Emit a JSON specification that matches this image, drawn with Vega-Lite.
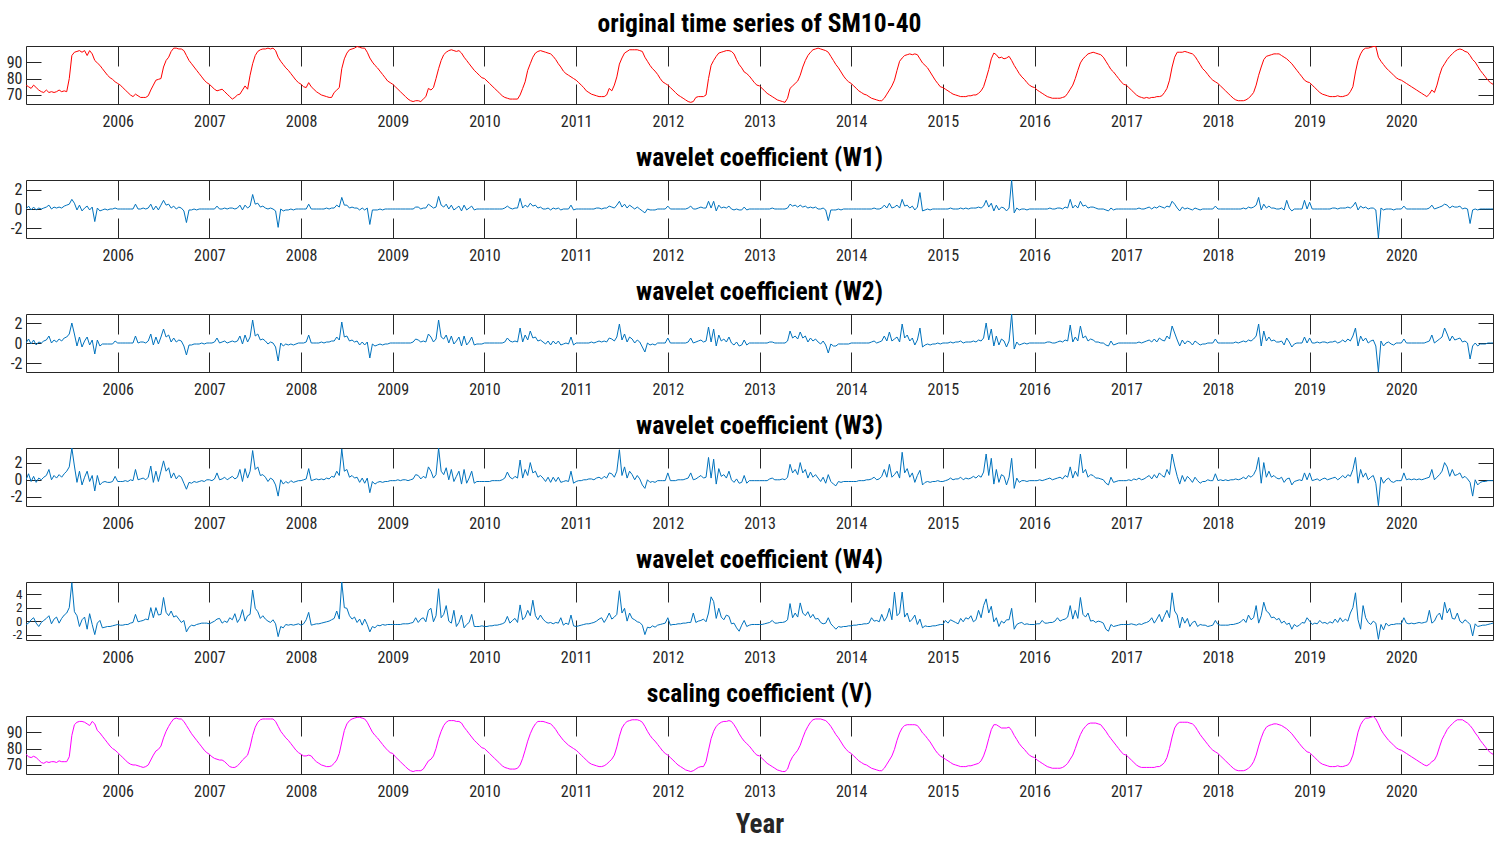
{
"$schema":"https://vega.github.io/schema/vega-lite/v6.json",
"background":"white",
"padding":{"left":5,"top":11,"right":5,"bottom":5},
"config":{
 "font":"Roboto Condensed, DejaVu Sans Condensed, Liberation Sans, sans-serif",
 "view":{"stroke":"#262626","strokeWidth":1},
 "axis":{"grid":false,"domain":false,"labelOverlap":false,"labelFont":"Roboto Condensed, DejaVu Sans Condensed, Liberation Sans, sans-serif","labelFontSize":16,"labelColor":"#262626","tickColor":"#262626","tickWidth":1,"titleFont":"Roboto Condensed, DejaVu Sans Condensed, Liberation Sans, sans-serif","titleColor":"#262626","labelExpr":"'' + datum.value"},
 "title":{"font":"Roboto Condensed, DejaVu Sans Condensed, Liberation Sans, sans-serif","fontSize":25.5,"fontWeight":"bold","color":"#000000","anchor":"middle","baseline":"alphabetic","offset":8}
},
"data":{"values":[
{"t":2005,"a":76,"b":0,"c":0,"d":0,"e":-0.5,"f":76.5},
{"t":2005.028,"a":75,"b":0.3,"c":0.4,"d":0.7,"e":-0.3,"f":75},
{"t":2005.056,"a":74,"b":-0.1,"c":-0.1,"d":-0.2,"e":0.2,"f":74.5},
{"t":2005.083,"a":76,"b":0.2,"c":0.3,"d":0.4,"e":0.5,"f":75.3},
{"t":2005.111,"a":74.5,"b":-0.1,"c":-0.2,"d":-0.3,"e":-0.3,"f":74.5},
{"t":2005.139,"a":73,"b":0.1,"c":0.1,"d":0.2,"e":-0.8,"f":73},
{"t":2005.167,"a":72,"b":0,"c":0,"d":0,"e":-0.2,"f":71.5},
{"t":2005.194,"a":71.5,"b":0.1,"c":0.2,"d":0.3,"e":0.1,"f":71},
{"t":2005.222,"a":73,"b":0.2,"c":0.3,"d":0.5,"e":0.4,"f":72},
{"t":2005.25,"a":71.5,"b":0.4,"c":0.7,"d":1.2,"e":0.8,"f":71.5},
{"t":2005.278,"a":72,"b":0,"c":0,"d":0,"e":-0.4,"f":72},
{"t":2005.306,"a":71.5,"b":0.2,"c":0.3,"d":0.5,"e":0.3,"f":72},
{"t":2005.333,"a":72,"b":0.1,"c":0.1,"d":0.2,"e":0.6,"f":71.5},
{"t":2005.361,"a":73,"b":0.2,"c":0.4,"d":0.6,"e":-0.3,"f":72.5},
{"t":2005.389,"a":72,"b":0.1,"c":0.2,"d":0.3,"e":0.4,"f":72},
{"t":2005.417,"a":72.5,"b":0.3,"c":0.5,"d":0.7,"e":0.9,"f":72},
{"t":2005.444,"a":72,"b":0.4,"c":0.6,"d":1,"e":1.2,"f":72},
{"t":2005.472,"a":80,"b":0.5,"c":0.9,"d":1.5,"e":2,"f":75},
{"t":2005.5,"a":94,"b":1,"c":2,"d":3.7,"e":5.7,"f":88},
{"t":2005.528,"a":96,"b":0.6,"c":0.9,"d":1.6,"e":1.4,"f":94.5},
{"t":2005.556,"a":96.5,"b":-0.1,"c":-0.3,"d":-0.3,"e":0.8,"f":96},
{"t":2005.583,"a":97,"b":0.4,"c":0.6,"d":1,"e":-0.8,"f":96.5},
{"t":2005.611,"a":96,"b":-0.2,"c":-0.4,"d":-0.6,"e":0.2,"f":96.5},
{"t":2005.639,"a":97,"b":0.1,"c":0.2,"d":0.3,"e":0.6,"f":96},
{"t":2005.667,"a":94,"b":0.3,"c":0.6,"d":1,"e":-1.2,"f":95},
{"t":2005.694,"a":97,"b":-0.1,"c":-0.2,"d":-0.2,"e":1.1,"f":94},
{"t":2005.722,"a":95,"b":0.2,"c":0.3,"d":0.5,"e":-0.5,"f":96.5},
{"t":2005.75,"a":91,"b":-1.3,"c":-1.1,"d":-1.3,"e":-2,"f":95},
{"t":2005.778,"a":89.5,"b":0.1,"c":0.3,"d":0.5,"e":-0.3,"f":91},
{"t":2005.806,"a":88,"b":-0.2,"c":-0.3,"d":-0.6,"e":0.1,"f":89.5},
{"t":2005.833,"a":86,"b":-0.1,"c":-0.1,"d":-0.3,"e":-1,"f":87.5},
{"t":2005.861,"a":84,"b":0,"c":-0.1,"d":-0.2,"e":-0.9,"f":85.5},
{"t":2005.889,"a":82,"b":-0.1,"c":-0.1,"d":-0.3,"e":-0.8,"f":83.5},
{"t":2005.917,"a":80.5,"b":0,"c":-0.1,"d":-0.3,"e":-0.8,"f":81.5},
{"t":2005.944,"a":79.5,"b":0,"c":-0.1,"d":-0.2,"e":-0.7,"f":80},
{"t":2005.972,"a":78,"b":0.1,"c":0.2,"d":0.4,"e":-0.6,"f":79},
{"t":2006,"a":77,"b":0,"c":0,"d":-0.2,"e":-0.5,"f":77.5},
{"t":2006.028,"a":76,"b":0,"c":0,"d":-0.2,"e":-0.6,"f":76},
{"t":2006.056,"a":74.5,"b":0,"c":0,"d":-0.2,"e":-0.6,"f":74.5},
{"t":2006.083,"a":73,"b":0,"c":0,"d":-0.1,"e":-0.5,"f":73},
{"t":2006.111,"a":71.5,"b":0,"c":0,"d":-0.2,"e":-0.5,"f":71.5},
{"t":2006.139,"a":70,"b":0,"c":0,"d":0,"e":-0.3,"f":70.5},
{"t":2006.167,"a":69,"b":0,"c":0,"d":-0.1,"e":-0.2,"f":70},
{"t":2006.194,"a":70.5,"b":0.5,"c":0.7,"d":1.2,"e":1,"f":70},
{"t":2006.222,"a":69.5,"b":0,"c":0,"d":0,"e":-0.1,"f":69.5},
{"t":2006.25,"a":68.5,"b":0,"c":0.1,"d":0.1,"e":0,"f":69},
{"t":2006.278,"a":68.5,"b":0.1,"c":0.1,"d":0.2,"e":0.1,"f":68.5},
{"t":2006.306,"a":68.5,"b":0,"c":0,"d":0,"e":0.3,"f":69},
{"t":2006.333,"a":69.5,"b":0.1,"c":0.2,"d":0.3,"e":0.2,"f":70},
{"t":2006.361,"a":73,"b":0.5,"c":0.9,"d":1.6,"e":2,"f":73},
{"t":2006.389,"a":76,"b":-0.1,"c":-0.2,"d":-0.3,"e":0.5,"f":76},
{"t":2006.417,"a":79,"b":0.3,"c":0.6,"d":1,"e":2,"f":78.5},
{"t":2006.444,"a":79.5,"b":-0.1,"c":-0.1,"d":-0.2,"e":0.9,"f":79.5},
{"t":2006.472,"a":80,"b":0.4,"c":0.6,"d":1,"e":1,"f":81.5},
{"t":2006.5,"a":87,"b":0.9,"c":1.4,"d":2.2,"e":3.5,"f":86.5},
{"t":2006.528,"a":91,"b":0.4,"c":0.6,"d":1,"e":1.3,"f":90.5},
{"t":2006.556,"a":93,"b":0.5,"c":0.8,"d":1.4,"e":0.8,"f":93.5},
{"t":2006.583,"a":96.5,"b":0.1,"c":0.1,"d":0.2,"e":1.5,"f":96},
{"t":2006.611,"a":98.5,"b":0.3,"c":0.5,"d":0.8,"e":0.6,"f":98},
{"t":2006.639,"a":98.5,"b":0,"c":0.1,"d":0.1,"e":0.8,"f":98.5},
{"t":2006.667,"a":98,"b":0.2,"c":0.3,"d":0.5,"e":0.3,"f":98},
{"t":2006.694,"a":98,"b":0.1,"c":0.2,"d":0.3,"e":-0.2,"f":98},
{"t":2006.722,"a":97,"b":-0.2,"c":-0.3,"d":-0.4,"e":0.1,"f":96.5},
{"t":2006.75,"a":94,"b":-1.4,"c":-1.2,"d":-1.1,"e":-1.6,"f":94},
{"t":2006.778,"a":91,"b":-0.1,"c":-0.2,"d":-0.3,"e":-0.9,"f":91.5},
{"t":2006.806,"a":89,"b":-0.1,"c":-0.2,"d":-0.4,"e":-0.6,"f":89},
{"t":2006.833,"a":87,"b":0,"c":-0.1,"d":-0.2,"e":-0.7,"f":87},
{"t":2006.861,"a":85,"b":-0.1,"c":-0.1,"d":-0.3,"e":-0.5,"f":85},
{"t":2006.889,"a":83,"b":0,"c":-0.1,"d":-0.2,"e":-0.4,"f":83},
{"t":2006.917,"a":81,"b":0,"c":0,"d":-0.1,"e":-0.3,"f":81},
{"t":2006.944,"a":79,"b":0,"c":-0.1,"d":-0.2,"e":-0.3,"f":79},
{"t":2006.972,"a":77.5,"b":0,"c":0,"d":0,"e":-0.3,"f":77.5},
{"t":2007,"a":76.5,"b":0,"c":0,"d":0,"e":-0.4,"f":76.5},
{"t":2007.028,"a":75,"b":0,"c":0,"d":-0.1,"e":-0.2,"f":75},
{"t":2007.056,"a":73.5,"b":0,"c":0.1,"d":0.1,"e":0,"f":74},
{"t":2007.083,"a":72.5,"b":0.3,"c":0.5,"d":0.8,"e":0.3,"f":73.5},
{"t":2007.111,"a":73,"b":0,"c":0,"d":0,"e":0.4,"f":73},
{"t":2007.139,"a":73.5,"b":0,"c":0.1,"d":0.1,"e":-0.3,"f":73},
{"t":2007.167,"a":72,"b":0.1,"c":0.2,"d":0.3,"e":0,"f":72},
{"t":2007.194,"a":70.5,"b":0,"c":0,"d":0,"e":-0.2,"f":70.5},
{"t":2007.222,"a":69,"b":0.1,"c":0.1,"d":0.2,"e":0.5,"f":69},
{"t":2007.25,"a":67.5,"b":0.1,"c":0.2,"d":0.4,"e":0.2,"f":68.5},
{"t":2007.278,"a":68.5,"b":0,"c":0.1,"d":0.1,"e":1.1,"f":68.5},
{"t":2007.306,"a":70,"b":0.1,"c":0.2,"d":0.3,"e":-0.2,"f":69.5},
{"t":2007.333,"a":70.5,"b":0.4,"c":0.7,"d":1.2,"e":0.4,"f":71},
{"t":2007.361,"a":73,"b":-0.1,"c":-0.1,"d":-0.2,"e":1.7,"f":73},
{"t":2007.389,"a":75.5,"b":0.4,"c":0.8,"d":1.3,"e":0,"f":74.5},
{"t":2007.417,"a":73.5,"b":0.1,"c":0.1,"d":0.2,"e":0.8,"f":76},
{"t":2007.444,"a":82,"b":0.3,"c":0.6,"d":1,"e":1,"f":81},
{"t":2007.472,"a":89,"b":1.5,"c":2.3,"d":3.4,"e":4.6,"f":88},
{"t":2007.5,"a":94,"b":0.5,"c":0.7,"d":1.2,"e":1.9,"f":93},
{"t":2007.528,"a":96.5,"b":0.6,"c":0.9,"d":1.5,"e":1.4,"f":96},
{"t":2007.556,"a":97.5,"b":0.2,"c":0.3,"d":0.5,"e":0.4,"f":97.5},
{"t":2007.583,"a":98,"b":0.3,"c":0.4,"d":0.6,"e":0.8,"f":98},
{"t":2007.611,"a":98,"b":0.1,"c":0.2,"d":0.3,"e":0.3,"f":98},
{"t":2007.639,"a":98.5,"b":0,"c":-0.1,"d":-0.2,"e":0,"f":98},
{"t":2007.667,"a":98,"b":0.1,"c":0.1,"d":0.2,"e":-0.2,"f":98},
{"t":2007.694,"a":98.5,"b":0,"c":0,"d":0,"e":0.2,"f":98},
{"t":2007.722,"a":97,"b":-0.2,"c":-0.4,"d":-0.6,"e":-0.4,"f":96.5},
{"t":2007.75,"a":93,"b":-1.9,"c":-1.8,"d":-1.9,"e":-2.3,"f":93.5},
{"t":2007.778,"a":90.5,"b":0,"c":0,"d":0,"e":-0.8,"f":90.5},
{"t":2007.806,"a":88.5,"b":-0.2,"c":-0.3,"d":-0.5,"e":-1,"f":88.5},
{"t":2007.833,"a":86.5,"b":-0.1,"c":-0.1,"d":-0.2,"e":-0.5,"f":86.5},
{"t":2007.861,"a":85,"b":-0.1,"c":-0.2,"d":-0.4,"e":-0.6,"f":85},
{"t":2007.889,"a":83,"b":0,"c":-0.1,"d":-0.1,"e":-0.5,"f":83},
{"t":2007.917,"a":81,"b":-0.1,"c":-0.2,"d":-0.3,"e":-0.6,"f":81},
{"t":2007.944,"a":79,"b":0,"c":-0.1,"d":-0.2,"e":-0.5,"f":79},
{"t":2007.972,"a":77.5,"b":0,"c":0,"d":-0.1,"e":-0.4,"f":77.5},
{"t":2008,"a":76.5,"b":0,"c":0,"d":-0.1,"e":-0.6,"f":76.5},
{"t":2008.028,"a":75,"b":0,"c":0,"d":0,"e":-0.4,"f":75.5},
{"t":2008.056,"a":74.5,"b":0,"c":0.1,"d":0.1,"e":0.2,"f":75.5},
{"t":2008.083,"a":77.5,"b":0.5,"c":0.8,"d":1.3,"e":1.3,"f":76},
{"t":2008.111,"a":75,"b":0,"c":0,"d":-0.1,"e":-0.6,"f":75.5},
{"t":2008.139,"a":73.5,"b":0,"c":0,"d":0,"e":-0.5,"f":73.5},
{"t":2008.167,"a":72,"b":0,"c":0,"d":0.1,"e":-0.4,"f":72},
{"t":2008.194,"a":71,"b":0,"c":0,"d":0,"e":-0.4,"f":71},
{"t":2008.222,"a":70,"b":0,"c":0.1,"d":0.1,"e":-0.3,"f":70},
{"t":2008.25,"a":69.5,"b":0,"c":0,"d":0,"e":-0.2,"f":69.5},
{"t":2008.278,"a":69,"b":0.1,"c":0.1,"d":0.2,"e":-0.1,"f":69},
{"t":2008.306,"a":68.5,"b":0,"c":0.1,"d":0.1,"e":0,"f":69},
{"t":2008.333,"a":68.5,"b":0.1,"c":0.2,"d":0.4,"e":0.2,"f":69.5},
{"t":2008.361,"a":71.5,"b":0.1,"c":0.2,"d":0.3,"e":0.4,"f":71},
{"t":2008.389,"a":73,"b":0.4,"c":0.6,"d":1,"e":1.5,"f":73},
{"t":2008.417,"a":74.5,"b":0.2,"c":0.3,"d":0.5,"e":0.3,"f":77},
{"t":2008.444,"a":86,"b":1.2,"c":2.1,"d":3.6,"e":5.8,"f":84},
{"t":2008.472,"a":92,"b":0.4,"c":0.6,"d":1,"e":2,"f":91},
{"t":2008.5,"a":95.5,"b":0.4,"c":0.7,"d":1.2,"e":1.9,"f":95},
{"t":2008.528,"a":97.5,"b":0.1,"c":0.2,"d":0.3,"e":0.8,"f":97},
{"t":2008.556,"a":98,"b":0.2,"c":0.3,"d":0.5,"e":0.3,"f":98},
{"t":2008.583,"a":98.5,"b":0.1,"c":0.1,"d":0.2,"e":0.6,"f":98.5},
{"t":2008.611,"a":99.5,"b":0.1,"c":0.2,"d":0.3,"e":-0.2,"f":99},
{"t":2008.639,"a":99,"b":-0.1,"c":-0.2,"d":-0.3,"e":0.3,"f":99},
{"t":2008.667,"a":98.5,"b":0.1,"c":0.1,"d":0.2,"e":-0.6,"f":98.5},
{"t":2008.694,"a":98.5,"b":-0.1,"c":-0.2,"d":-0.4,"e":0.3,"f":98},
{"t":2008.722,"a":96,"b":0.1,"c":0.1,"d":0.2,"e":-0.5,"f":96},
{"t":2008.75,"a":92.5,"b":-1.6,"c":-1.5,"d":-1.5,"e":-1.6,"f":93},
{"t":2008.778,"a":90,"b":-0.1,"c":-0.1,"d":-0.2,"e":-0.8,"f":90},
{"t":2008.806,"a":88,"b":-0.1,"c":-0.3,"d":-0.5,"e":-1,"f":88},
{"t":2008.833,"a":86.5,"b":-0.1,"c":-0.2,"d":-0.3,"e":-0.6,"f":86.5},
{"t":2008.861,"a":84.5,"b":0,"c":-0.1,"d":-0.2,"e":-0.7,"f":84.5},
{"t":2008.889,"a":82.5,"b":-0.1,"c":-0.2,"d":-0.3,"e":-0.5,"f":82.5},
{"t":2008.917,"a":80.5,"b":0,"c":-0.1,"d":-0.2,"e":-0.6,"f":80.5},
{"t":2008.944,"a":78.5,"b":0,"c":-0.1,"d":-0.2,"e":-0.5,"f":79},
{"t":2008.972,"a":77.5,"b":0,"c":0,"d":-0.1,"e":-0.5,"f":77.5},
{"t":2009,"a":76.5,"b":0,"c":0,"d":-0.1,"e":-0.5,"f":77},
{"t":2009.028,"a":75,"b":0,"c":0,"d":-0.1,"e":-0.5,"f":75},
{"t":2009.056,"a":73.5,"b":0,"c":0,"d":0,"e":-0.5,"f":73.5},
{"t":2009.083,"a":72,"b":0,"c":0,"d":-0.1,"e":-0.5,"f":72},
{"t":2009.111,"a":70.5,"b":0,"c":0,"d":0,"e":-0.4,"f":70.5},
{"t":2009.139,"a":69,"b":0,"c":0,"d":0,"e":-0.4,"f":69},
{"t":2009.167,"a":67.5,"b":0,"c":0,"d":-0.1,"e":-0.4,"f":67.5},
{"t":2009.194,"a":66.5,"b":0,"c":0,"d":0,"e":-0.3,"f":66.5},
{"t":2009.222,"a":66,"b":0,"c":0.1,"d":0.1,"e":-0.2,"f":66},
{"t":2009.25,"a":66.5,"b":0.2,"c":0.4,"d":0.6,"e":0.5,"f":66.5},
{"t":2009.278,"a":66.5,"b":0.2,"c":0.3,"d":0.5,"e":-0.2,"f":66.5},
{"t":2009.306,"a":66,"b":0,"c":0.1,"d":0.1,"e":0.3,"f":66.5},
{"t":2009.333,"a":67.5,"b":0.1,"c":0.2,"d":0.4,"e":0.5,"f":67.5},
{"t":2009.361,"a":69,"b":0.1,"c":0.1,"d":0.2,"e":-0.1,"f":70},
{"t":2009.389,"a":74,"b":0.5,"c":0.9,"d":1.5,"e":1.6,"f":72.5},
{"t":2009.417,"a":73,"b":0.3,"c":0.6,"d":1,"e":1.9,"f":73.5},
{"t":2009.444,"a":74.5,"b":0.1,"c":0.1,"d":0.2,"e":-0.1,"f":75.5},
{"t":2009.472,"a":80,"b":0.2,"c":0.4,"d":0.6,"e":0.8,"f":80},
{"t":2009.5,"a":86,"b":1.3,"c":2.3,"d":3.7,"e":4.8,"f":86},
{"t":2009.528,"a":91,"b":0.4,"c":0.6,"d":1,"e":0.5,"f":90.5},
{"t":2009.556,"a":94.5,"b":0.2,"c":0.4,"d":0.6,"e":1,"f":94},
{"t":2009.583,"a":96,"b":0.5,"c":0.8,"d":1.4,"e":2.3,"f":96},
{"t":2009.611,"a":97,"b":0,"c":0,"d":0,"e":0,"f":97},
{"t":2009.639,"a":97.5,"b":0.4,"c":0.7,"d":1.2,"e":-0.3,"f":97},
{"t":2009.667,"a":97,"b":-0.1,"c":-0.1,"d":-0.2,"e":1.6,"f":97},
{"t":2009.694,"a":96.5,"b":0.1,"c":0.2,"d":0.4,"e":-0.8,"f":96.5},
{"t":2009.722,"a":97,"b":0.3,"c":0.6,"d":1,"e":-0.2,"f":96.5},
{"t":2009.75,"a":95.5,"b":-0.2,"c":-0.3,"d":-0.5,"e":0.9,"f":95.5},
{"t":2009.778,"a":93,"b":0.4,"c":0.7,"d":1.2,"e":-1,"f":93},
{"t":2009.806,"a":91,"b":-0.1,"c":-0.2,"d":-0.4,"e":-0.5,"f":91},
{"t":2009.833,"a":89,"b":0.1,"c":0.1,"d":0.2,"e":-0.2,"f":89},
{"t":2009.861,"a":87,"b":0.3,"c":0.6,"d":1,"e":1,"f":87},
{"t":2009.889,"a":85,"b":-0.1,"c":-0.2,"d":-0.4,"e":-0.8,"f":85},
{"t":2009.917,"a":83.5,"b":0,"c":-0.1,"d":-0.2,"e":-0.8,"f":83.5},
{"t":2009.944,"a":82,"b":0,"c":-0.1,"d":-0.2,"e":-0.8,"f":82},
{"t":2009.972,"a":80.5,"b":0,"c":-0.1,"d":-0.2,"e":-0.7,"f":80.5},
{"t":2010,"a":80,"b":0,"c":0,"d":-0.2,"e":-0.8,"f":80},
{"t":2010.028,"a":78.5,"b":0,"c":0,"d":-0.2,"e":-0.8,"f":78.5},
{"t":2010.056,"a":77,"b":0,"c":0,"d":-0.2,"e":-0.7,"f":77},
{"t":2010.083,"a":75.5,"b":0,"c":0,"d":-0.1,"e":-0.7,"f":75.5},
{"t":2010.111,"a":74,"b":0,"c":0,"d":-0.1,"e":-0.6,"f":74},
{"t":2010.139,"a":72.5,"b":0,"c":0,"d":-0.1,"e":-0.6,"f":72.5},
{"t":2010.167,"a":71,"b":0,"c":0,"d":-0.1,"e":-0.5,"f":71},
{"t":2010.194,"a":69.5,"b":0,"c":0,"d":0,"e":-0.4,"f":69.5},
{"t":2010.222,"a":68.5,"b":0.1,"c":0.1,"d":0.2,"e":-0.2,"f":68.5},
{"t":2010.25,"a":68,"b":0.3,"c":0.5,"d":0.9,"e":0.7,"f":68},
{"t":2010.278,"a":67.5,"b":0.1,"c":0.2,"d":0.3,"e":-0.3,"f":67.5},
{"t":2010.306,"a":67.5,"b":0,"c":0.1,"d":0.1,"e":0.1,"f":67.5},
{"t":2010.333,"a":67.5,"b":0.1,"c":0.2,"d":0.4,"e":0.4,"f":67.5},
{"t":2010.361,"a":67.5,"b":0.1,"c":0.1,"d":0.2,"e":-0.2,"f":68},
{"t":2010.389,"a":70,"b":1.1,"c":1.5,"d":2.3,"e":2.4,"f":70},
{"t":2010.417,"a":74,"b":0.1,"c":0.1,"d":0.2,"e":0.2,"f":74},
{"t":2010.444,"a":78,"b":0.4,"c":0.8,"d":1.2,"e":0.6,"f":79},
{"t":2010.472,"a":85,"b":0.2,"c":0.3,"d":0.5,"e":1.6,"f":84.5},
{"t":2010.5,"a":89,"b":0.6,"c":1.2,"d":2,"e":0.8,"f":89},
{"t":2010.528,"a":93,"b":0.3,"c":0.5,"d":0.8,"e":3.1,"f":92.5},
{"t":2010.556,"a":95.5,"b":0.4,"c":0.6,"d":1,"e":0.8,"f":95},
{"t":2010.583,"a":96.5,"b":0.1,"c":0.2,"d":0.3,"e":0.2,"f":96.5},
{"t":2010.611,"a":97,"b":0.2,"c":0.3,"d":0.5,"e":0.9,"f":96.5},
{"t":2010.639,"a":96.5,"b":0,"c":0.1,"d":0.2,"e":0.3,"f":96.5},
{"t":2010.667,"a":96,"b":0,"c":-0.1,"d":-0.2,"e":-0.1,"f":96},
{"t":2010.694,"a":95.5,"b":0.1,"c":0.2,"d":0.3,"e":-0.3,"f":95.5},
{"t":2010.722,"a":95,"b":-0.1,"c":-0.2,"d":-0.3,"e":-0.2,"f":95},
{"t":2010.75,"a":93.5,"b":0.1,"c":0.2,"d":0.3,"e":-0.4,"f":93.5},
{"t":2010.778,"a":91.5,"b":0,"c":-0.1,"d":-0.2,"e":-0.2,"f":91.5},
{"t":2010.806,"a":89,"b":0.1,"c":0.2,"d":0.3,"e":-0.3,"f":89},
{"t":2010.833,"a":87,"b":-0.1,"c":-0.2,"d":-0.3,"e":0.5,"f":87},
{"t":2010.861,"a":84.5,"b":0,"c":-0.1,"d":-0.2,"e":-0.6,"f":85},
{"t":2010.889,"a":83,"b":0,"c":0,"d":-0.1,"e":-0.3,"f":83.5},
{"t":2010.917,"a":82,"b":0,"c":-0.1,"d":-0.2,"e":-0.5,"f":82},
{"t":2010.944,"a":81,"b":0.4,"c":0.6,"d":1,"e":0.9,"f":81},
{"t":2010.972,"a":80,"b":-0.1,"c":-0.2,"d":-0.4,"e":-0.7,"f":80},
{"t":2011,"a":79,"b":0,"c":0,"d":-0.2,"e":-0.8,"f":79},
{"t":2011.028,"a":77.5,"b":0,"c":0,"d":-0.1,"e":-0.7,"f":77.5},
{"t":2011.056,"a":76,"b":0,"c":0,"d":-0.1,"e":-0.6,"f":76},
{"t":2011.083,"a":74.5,"b":0,"c":0,"d":0,"e":-0.5,"f":74.5},
{"t":2011.111,"a":72.5,"b":0,"c":0,"d":0,"e":-0.4,"f":73},
{"t":2011.139,"a":71.5,"b":0,"c":0,"d":0.1,"e":-0.4,"f":71.5},
{"t":2011.167,"a":70.5,"b":0,"c":0.1,"d":0.1,"e":-0.3,"f":70.5},
{"t":2011.194,"a":70,"b":0,"c":0,"d":0,"e":-0.2,"f":70},
{"t":2011.222,"a":69.5,"b":0.1,"c":0.1,"d":0.2,"e":0,"f":69.5},
{"t":2011.25,"a":69,"b":0.1,"c":0.2,"d":0.3,"e":0.3,"f":69},
{"t":2011.278,"a":69,"b":0,"c":0.1,"d":0.1,"e":0.5,"f":69},
{"t":2011.306,"a":69,"b":0.1,"c":0.2,"d":0.4,"e":-0.2,"f":69.5},
{"t":2011.333,"a":70,"b":0.1,"c":0.1,"d":0.2,"e":0.4,"f":70.5},
{"t":2011.361,"a":74,"b":0.3,"c":0.5,"d":0.8,"e":1.2,"f":72},
{"t":2011.389,"a":72.5,"b":0.2,"c":0.4,"d":0.7,"e":0.3,"f":73.5},
{"t":2011.417,"a":76,"b":0.1,"c":0.2,"d":0.3,"e":0.6,"f":76},
{"t":2011.444,"a":81,"b":0.4,"c":0.6,"d":1,"e":1,"f":81},
{"t":2011.472,"a":88.8,"b":0.8,"c":1.9,"d":3.5,"e":4.5,"f":87.5},
{"t":2011.5,"a":92.5,"b":0.2,"c":0.3,"d":0.5,"e":1.2,"f":92.5},
{"t":2011.528,"a":95.5,"b":0.5,"c":0.9,"d":1.5,"e":1.9,"f":95},
{"t":2011.556,"a":96.5,"b":0.1,"c":0.1,"d":0.2,"e":0,"f":96.5},
{"t":2011.583,"a":97.5,"b":0.4,"c":0.6,"d":1,"e":1.2,"f":97},
{"t":2011.611,"a":97.5,"b":0.2,"c":0.4,"d":0.6,"e":0.4,"f":97.5},
{"t":2011.639,"a":97.5,"b":0,"c":0,"d":0,"e":0.2,"f":97.5},
{"t":2011.667,"a":97.5,"b":0.2,"c":0.3,"d":0.5,"e":-0.1,"f":97.5},
{"t":2011.694,"a":97,"b":0,"c":0.1,"d":0.1,"e":-0.2,"f":97},
{"t":2011.722,"a":96.5,"b":-0.2,"c":-0.4,"d":-0.6,"e":-0.6,"f":96},
{"t":2011.75,"a":93,"b":-0.4,"c":-0.9,"d":-1,"e":-2,"f":93.5},
{"t":2011.778,"a":90.5,"b":0,"c":0,"d":0,"e":-0.9,"f":90.5},
{"t":2011.806,"a":88,"b":-0.1,"c":-0.2,"d":-0.3,"e":-1,"f":88},
{"t":2011.833,"a":86,"b":-0.1,"c":-0.1,"d":-0.2,"e":-0.7,"f":86},
{"t":2011.861,"a":84.5,"b":-0.1,"c":-0.2,"d":-0.3,"e":-0.9,"f":84.5},
{"t":2011.889,"a":82.5,"b":0,"c":0,"d":-0.1,"e":-0.6,"f":82.5},
{"t":2011.917,"a":80,"b":0,"c":0,"d":-0.1,"e":-0.5,"f":80.5},
{"t":2011.944,"a":78,"b":0,"c":0,"d":-0.1,"e":-0.4,"f":78.5},
{"t":2011.972,"a":77,"b":0,"c":0,"d":-0.1,"e":-0.3,"f":77},
{"t":2012,"a":76,"b":0.3,"c":0.5,"d":0.8,"e":0.5,"f":76},
{"t":2012.028,"a":74.5,"b":0,"c":0,"d":-0.1,"e":-0.6,"f":74.5},
{"t":2012.056,"a":73,"b":0,"c":0,"d":-0.1,"e":-0.5,"f":73},
{"t":2012.083,"a":71.5,"b":0,"c":0,"d":-0.1,"e":-0.5,"f":71.5},
{"t":2012.111,"a":70,"b":0,"c":0,"d":0,"e":-0.4,"f":70},
{"t":2012.139,"a":69,"b":0,"c":0,"d":0,"e":-0.4,"f":69},
{"t":2012.167,"a":68,"b":0,"c":0,"d":0,"e":-0.3,"f":68},
{"t":2012.194,"a":67,"b":0,"c":0,"d":0.1,"e":-0.3,"f":67},
{"t":2012.222,"a":66,"b":0.1,"c":0.1,"d":0.2,"e":-0.2,"f":66.5},
{"t":2012.25,"a":65.5,"b":0.3,"c":0.5,"d":0.8,"e":-0.2,"f":66},
{"t":2012.278,"a":66,"b":0,"c":0,"d":0,"e":1.2,"f":66.5},
{"t":2012.306,"a":68.5,"b":0,"c":0.1,"d":0.1,"e":-0.2,"f":67.5},
{"t":2012.333,"a":69,"b":0.1,"c":0.2,"d":0.3,"e":0,"f":68.5},
{"t":2012.361,"a":69,"b":0.2,"c":0.3,"d":0.5,"e":0.1,"f":69},
{"t":2012.389,"a":69,"b":0.1,"c":0.1,"d":0.2,"e":0.3,"f":69},
{"t":2012.417,"a":70,"b":0.1,"c":0.2,"d":0.3,"e":-0.1,"f":72},
{"t":2012.444,"a":80,"b":0.8,"c":1.6,"d":2.6,"e":1.2,"f":79},
{"t":2012.472,"a":88,"b":0.1,"c":0.1,"d":0.2,"e":3.6,"f":86},
{"t":2012.5,"a":91,"b":0.8,"c":1.4,"d":2.4,"e":2.9,"f":90.5},
{"t":2012.528,"a":93.5,"b":-0.2,"c":-0.3,"d":-0.5,"e":0.4,"f":93.5},
{"t":2012.556,"a":95.5,"b":0.4,"c":0.8,"d":1.3,"e":1.9,"f":95},
{"t":2012.583,"a":96,"b":0.1,"c":0.2,"d":0.4,"e":0.6,"f":96},
{"t":2012.611,"a":96.5,"b":0.2,"c":0.4,"d":0.6,"e":0.2,"f":96.5},
{"t":2012.639,"a":97,"b":0.1,"c":0.1,"d":0.2,"e":0.9,"f":96.5},
{"t":2012.667,"a":97,"b":0.3,"c":0.6,"d":1,"e":0.7,"f":97},
{"t":2012.694,"a":96.5,"b":0,"c":0,"d":0,"e":-0.4,"f":96.5},
{"t":2012.722,"a":95,"b":-0.1,"c":-0.2,"d":-0.3,"e":-0.3,"f":94.5},
{"t":2012.75,"a":91.5,"b":0,"c":0.1,"d":0.1,"e":-1,"f":92},
{"t":2012.778,"a":88.5,"b":-0.1,"c":-0.3,"d":-0.4,"e":-1.5,"f":89},
{"t":2012.806,"a":86.5,"b":-0.1,"c":-0.2,"d":-0.3,"e":-0.6,"f":86.5},
{"t":2012.833,"a":84,"b":0.2,"c":0.3,"d":0.5,"e":0.1,"f":84.5},
{"t":2012.861,"a":83,"b":-0.1,"c":-0.2,"d":-0.4,"e":-0.8,"f":83},
{"t":2012.889,"a":81.5,"b":0,"c":0,"d":-0.1,"e":-0.6,"f":81.5},
{"t":2012.917,"a":79.5,"b":0,"c":0,"d":-0.1,"e":-0.5,"f":79.5},
{"t":2012.944,"a":77.5,"b":0,"c":0,"d":-0.1,"e":-0.5,"f":77.5},
{"t":2012.972,"a":76,"b":0,"c":0,"d":-0.1,"e":-0.5,"f":76},
{"t":2013,"a":75.5,"b":0,"c":0,"d":-0.1,"e":-0.5,"f":75.5},
{"t":2013.028,"a":74,"b":0,"c":0,"d":-0.1,"e":-0.5,"f":74},
{"t":2013.056,"a":72.5,"b":0,"c":0,"d":-0.1,"e":-0.4,"f":72.5},
{"t":2013.083,"a":71,"b":0,"c":0,"d":-0.1,"e":-0.3,"f":71},
{"t":2013.111,"a":70,"b":0,"c":0.1,"d":0.1,"e":-0.2,"f":70},
{"t":2013.139,"a":69,"b":0.1,"c":0.1,"d":0.2,"e":0.1,"f":69},
{"t":2013.167,"a":68,"b":0,"c":0,"d":0,"e":-0.3,"f":68},
{"t":2013.194,"a":67,"b":0,"c":0,"d":0,"e":-0.3,"f":67},
{"t":2013.222,"a":66.5,"b":0,"c":0,"d":0,"e":-0.2,"f":66.5},
{"t":2013.25,"a":66,"b":0,"c":0,"d":0.1,"e":-0.2,"f":66},
{"t":2013.278,"a":65.5,"b":0,"c":0,"d":0,"e":-0.1,"f":66},
{"t":2013.306,"a":68,"b":0.1,"c":0.2,"d":0.3,"e":0.2,"f":67.5},
{"t":2013.333,"a":74,"b":0.5,"c":1.2,"d":1.8,"e":2.6,"f":72},
{"t":2013.361,"a":75.5,"b":0.3,"c":0.5,"d":0.8,"e":0.5,"f":75},
{"t":2013.389,"a":77,"b":0.4,"c":0.7,"d":1.2,"e":1.2,"f":77},
{"t":2013.417,"a":78.5,"b":0.2,"c":0.4,"d":0.6,"e":0.6,"f":79},
{"t":2013.444,"a":82,"b":0.4,"c":1.1,"d":2,"e":2.7,"f":82},
{"t":2013.472,"a":87,"b":0.2,"c":0.5,"d":0.8,"e":1.2,"f":86.5},
{"t":2013.5,"a":91,"b":0.3,"c":0.7,"d":1.2,"e":0.8,"f":90.5},
{"t":2013.528,"a":94,"b":0.1,"c":0.1,"d":0.2,"e":1.4,"f":93.5},
{"t":2013.556,"a":96,"b":0.2,"c":0.5,"d":0.9,"e":0.5,"f":96},
{"t":2013.583,"a":97.5,"b":0.1,"c":0.2,"d":0.3,"e":1,"f":97.5},
{"t":2013.611,"a":98,"b":0.2,"c":0.4,"d":0.6,"e":0.3,"f":98},
{"t":2013.639,"a":98.5,"b":0,"c":0.1,"d":0.2,"e":0.4,"f":98},
{"t":2013.667,"a":98,"b":0,"c":-0.1,"d":-0.2,"e":-0.2,"f":98},
{"t":2013.694,"a":97.5,"b":0.1,"c":0.2,"d":0.3,"e":-0.4,"f":97.5},
{"t":2013.722,"a":97,"b":-0.1,"c":-0.2,"d":-0.4,"e":-0.3,"f":97},
{"t":2013.75,"a":96,"b":-1.2,"c":-1,"d":0.6,"e":0.5,"f":95.5},
{"t":2013.778,"a":93.5,"b":-0.1,"c":-0.1,"d":-0.2,"e":-0.4,"f":93.5},
{"t":2013.806,"a":91,"b":-0.1,"c":-0.3,"d":-0.5,"e":-0.8,"f":91},
{"t":2013.833,"a":88.5,"b":-0.1,"c":-0.3,"d":-0.7,"e":-1.2,"f":88.5},
{"t":2013.861,"a":86.5,"b":0,"c":-0.1,"d":-0.2,"e":-0.8,"f":86.5},
{"t":2013.889,"a":84,"b":-0.1,"c":-0.1,"d":-0.3,"e":-0.9,"f":84},
{"t":2013.917,"a":81.5,"b":0,"c":-0.1,"d":-0.2,"e":-0.8,"f":81.5},
{"t":2013.944,"a":79.5,"b":0,"c":-0.1,"d":-0.2,"e":-0.8,"f":79.5},
{"t":2013.972,"a":78,"b":0,"c":-0.1,"d":-0.2,"e":-0.7,"f":78},
{"t":2014,"a":77,"b":0,"c":0,"d":-0.2,"e":-0.7,"f":77},
{"t":2014.028,"a":75.5,"b":0,"c":0,"d":-0.2,"e":-0.6,"f":75.5},
{"t":2014.056,"a":74,"b":0,"c":0,"d":-0.2,"e":-0.6,"f":74},
{"t":2014.083,"a":72.5,"b":0,"c":0,"d":-0.1,"e":-0.5,"f":72.5},
{"t":2014.111,"a":71.5,"b":0,"c":0,"d":-0.1,"e":-0.5,"f":71.5},
{"t":2014.139,"a":70.5,"b":0,"c":0,"d":-0.1,"e":-0.4,"f":70.5},
{"t":2014.167,"a":70,"b":0,"c":0,"d":0,"e":-0.4,"f":70},
{"t":2014.194,"a":69,"b":0,"c":0,"d":0,"e":-0.3,"f":69},
{"t":2014.222,"a":68,"b":0,"c":0.1,"d":0.1,"e":0.5,"f":68},
{"t":2014.25,"a":67.5,"b":0.1,"c":0.2,"d":0.3,"e":0,"f":67.5},
{"t":2014.278,"a":67,"b":0,"c":0,"d":0,"e":0.1,"f":67},
{"t":2014.306,"a":66.5,"b":0,"c":0.1,"d":0.1,"e":-0.1,"f":66.5},
{"t":2014.333,"a":66.5,"b":0.1,"c":0.2,"d":0.4,"e":1,"f":66.5},
{"t":2014.361,"a":68,"b":0.4,"c":0.7,"d":1.2,"e":0,"f":68},
{"t":2014.389,"a":70.5,"b":0.1,"c":0.2,"d":0.3,"e":0.6,"f":70.5},
{"t":2014.417,"a":73,"b":0.6,"c":1.1,"d":1.8,"e":1.9,"f":73},
{"t":2014.444,"a":75.5,"b":0.1,"c":0.2,"d":0.3,"e":0.2,"f":75.5},
{"t":2014.472,"a":79,"b":0.2,"c":0.4,"d":0.6,"e":4.3,"f":79.5},
{"t":2014.5,"a":85,"b":0.4,"c":0.6,"d":1,"e":0.8,"f":85},
{"t":2014.528,"a":90.5,"b":0.1,"c":0.1,"d":0.2,"e":1.2,"f":89.5},
{"t":2014.556,"a":92.5,"b":1,"c":1.9,"d":3.2,"e":4.3,"f":92.5},
{"t":2014.583,"a":94,"b":0.3,"c":0.5,"d":0.8,"e":0.6,"f":94},
{"t":2014.611,"a":94.5,"b":0.4,"c":0.8,"d":1.3,"e":1.2,"f":94.5},
{"t":2014.639,"a":95,"b":0.1,"c":0.2,"d":0.3,"e":-0.1,"f":94.5},
{"t":2014.667,"a":94.5,"b":0.3,"c":0.5,"d":0.8,"e":0.3,"f":94.5},
{"t":2014.694,"a":95,"b":-0.1,"c":-0.2,"d":-0.3,"e":0.9,"f":94.5},
{"t":2014.722,"a":94.5,"b":0.2,"c":0.3,"d":0.5,"e":-0.5,"f":94},
{"t":2014.75,"a":92,"b":1.7,"c":1.5,"d":1.1,"e":0.3,"f":92},
{"t":2014.778,"a":89.5,"b":-0.2,"c":-0.4,"d":-0.6,"e":-1,"f":89.5},
{"t":2014.806,"a":88,"b":-0.1,"c":-0.2,"d":-0.3,"e":-0.7,"f":88},
{"t":2014.833,"a":86.5,"b":0,"c":-0.1,"d":-0.2,"e":-0.8,"f":86},
{"t":2014.861,"a":84,"b":-0.1,"c":-0.2,"d":-0.3,"e":-0.8,"f":84},
{"t":2014.889,"a":81.5,"b":0,"c":-0.1,"d":-0.2,"e":-0.7,"f":81.5},
{"t":2014.917,"a":79,"b":0,"c":-0.1,"d":-0.2,"e":-0.7,"f":79},
{"t":2014.944,"a":77,"b":0,"c":0,"d":-0.1,"e":-0.6,"f":77},
{"t":2014.972,"a":75,"b":0,"c":-0.1,"d":-0.2,"e":-0.5,"f":75.5},
{"t":2015,"a":74.5,"b":0,"c":0,"d":-0.2,"e":-0.5,"f":74.5},
{"t":2015.028,"a":73.5,"b":0,"c":0,"d":-0.1,"e":0.1,"f":73.5},
{"t":2015.056,"a":72.5,"b":0,"c":0,"d":0,"e":-0.3,"f":72.5},
{"t":2015.083,"a":71.5,"b":0.1,"c":0.1,"d":0.2,"e":0.2,"f":71.5},
{"t":2015.111,"a":70.5,"b":0,"c":0,"d":0,"e":0,"f":70.5},
{"t":2015.139,"a":70,"b":0,"c":0.1,"d":0.1,"e":-0.2,"f":70},
{"t":2015.167,"a":69.5,"b":0,"c":0.1,"d":0.1,"e":-0.4,"f":69.5},
{"t":2015.194,"a":69,"b":0.1,"c":0.2,"d":0.3,"e":0.4,"f":69},
{"t":2015.222,"a":69,"b":0,"c":0,"d":0,"e":-0.1,"f":69},
{"t":2015.25,"a":69,"b":0.1,"c":0.1,"d":0.2,"e":0.5,"f":69},
{"t":2015.278,"a":69.5,"b":0,"c":0.1,"d":0.1,"e":0.3,"f":69.5},
{"t":2015.306,"a":69.5,"b":0.1,"c":0.1,"d":0.2,"e":0.8,"f":69.5},
{"t":2015.333,"a":70,"b":0.1,"c":0.2,"d":0.4,"e":-0.1,"f":70},
{"t":2015.361,"a":70,"b":0.1,"c":0.1,"d":0.2,"e":0.2,"f":70.5},
{"t":2015.389,"a":71,"b":0.2,"c":0.3,"d":0.5,"e":1.6,"f":71},
{"t":2015.417,"a":72.5,"b":0.1,"c":0.2,"d":0.3,"e":0.5,"f":72.5},
{"t":2015.444,"a":75,"b":0.3,"c":0.5,"d":0.9,"e":2.3,"f":75.5},
{"t":2015.472,"a":80,"b":0.9,"c":2,"d":3,"e":3.3,"f":80},
{"t":2015.5,"a":85.5,"b":0.2,"c":0.3,"d":0.5,"e":1.2,"f":86},
{"t":2015.528,"a":92,"b":0.6,"c":1.4,"d":2.5,"e":2.2,"f":91.5},
{"t":2015.556,"a":95.5,"b":-0.2,"c":-0.3,"d":-0.5,"e":-0.1,"f":94.5},
{"t":2015.583,"a":94.5,"b":0.4,"c":0.7,"d":1.2,"e":0.5,"f":94.5},
{"t":2015.611,"a":92.5,"b":-0.1,"c":-0.2,"d":-0.3,"e":-0.8,"f":93.5},
{"t":2015.639,"a":93,"b":0.2,"c":0.4,"d":0.6,"e":0,"f":92.5},
{"t":2015.667,"a":92,"b":0.1,"c":0.2,"d":0.4,"e":-0.3,"f":92.5},
{"t":2015.694,"a":92.5,"b":-0.2,"c":-0.4,"d":-0.6,"e":0.2,"f":92.5},
{"t":2015.722,"a":93.5,"b":0.1,"c":0.2,"d":0.3,"e":0.2,"f":93},
{"t":2015.75,"a":91,"b":3,"c":2.9,"d":2.5,"e":1.9,"f":91},
{"t":2015.778,"a":88,"b":-0.4,"c":-0.6,"d":-1,"e":-1.2,"f":88},
{"t":2015.806,"a":85.5,"b":0.1,"c":0.1,"d":0.2,"e":-0.5,"f":85.5},
{"t":2015.833,"a":83,"b":-0.1,"c":-0.2,"d":-0.3,"e":-0.3,"f":83},
{"t":2015.861,"a":81,"b":0,"c":-0.1,"d":-0.1,"e":-0.2,"f":81},
{"t":2015.889,"a":79.5,"b":0,"c":0,"d":-0.1,"e":-0.5,"f":79.5},
{"t":2015.917,"a":77.5,"b":-0.1,"c":-0.1,"d":-0.2,"e":-0.4,"f":77.5},
{"t":2015.944,"a":76,"b":0,"c":0,"d":-0.1,"e":-0.5,"f":76},
{"t":2015.972,"a":75,"b":0,"c":0,"d":-0.1,"e":-0.5,"f":75},
{"t":2016,"a":74.5,"b":0,"c":0,"d":-0.1,"e":-0.5,"f":74.5},
{"t":2016.028,"a":73,"b":0,"c":0,"d":-0.1,"e":-0.4,"f":73},
{"t":2016.056,"a":72,"b":0,"c":0,"d":0,"e":-0.4,"f":72},
{"t":2016.083,"a":71,"b":0,"c":0,"d":-0.1,"e":0.1,"f":71},
{"t":2016.111,"a":70,"b":0,"c":0,"d":0,"e":-0.3,"f":70},
{"t":2016.139,"a":69,"b":0,"c":0.1,"d":0.1,"e":-0.3,"f":69},
{"t":2016.167,"a":68.5,"b":0.1,"c":0.1,"d":0.2,"e":-0.2,"f":68.5},
{"t":2016.194,"a":68,"b":0,"c":0,"d":0,"e":-0.2,"f":68},
{"t":2016.222,"a":68,"b":0,"c":0,"d":0.1,"e":0,"f":68},
{"t":2016.25,"a":68,"b":0.1,"c":0.1,"d":0.2,"e":0.5,"f":68},
{"t":2016.278,"a":68,"b":0.1,"c":0.2,"d":0.3,"e":0,"f":68},
{"t":2016.306,"a":68.5,"b":0,"c":0.1,"d":0.1,"e":0.2,"f":68.5},
{"t":2016.333,"a":69,"b":0.2,"c":0.3,"d":0.5,"e":0.3,"f":69.5},
{"t":2016.361,"a":71,"b":0.1,"c":0.2,"d":0.3,"e":0.6,"f":71},
{"t":2016.389,"a":73.5,"b":1,"c":1.8,"d":1.5,"e":2.3,"f":73.5},
{"t":2016.417,"a":76,"b":0.1,"c":0.1,"d":0.2,"e":0.3,"f":76},
{"t":2016.444,"a":80,"b":0.4,"c":0.6,"d":1,"e":1.6,"f":80},
{"t":2016.472,"a":85,"b":0.1,"c":0.2,"d":0.4,"e":0.4,"f":84.5},
{"t":2016.5,"a":89.5,"b":0.8,"c":1.7,"d":3,"e":3.5,"f":88.5},
{"t":2016.528,"a":92,"b":0.3,"c":0.5,"d":0.8,"e":1,"f":91.5},
{"t":2016.556,"a":93.5,"b":0.4,"c":0.7,"d":1.2,"e":0.6,"f":93.5},
{"t":2016.583,"a":95,"b":0.1,"c":0.2,"d":0.3,"e":1.2,"f":95},
{"t":2016.611,"a":95.5,"b":0.2,"c":0.4,"d":0.6,"e":0,"f":95.5},
{"t":2016.639,"a":96,"b":0.2,"c":0.3,"d":0.5,"e":0.1,"f":95.5},
{"t":2016.667,"a":95.5,"b":0.1,"c":0.1,"d":0.2,"e":-0.2,"f":95.5},
{"t":2016.694,"a":95,"b":0,"c":0.1,"d":0.2,"e":0,"f":95},
{"t":2016.722,"a":94.5,"b":0,"c":0,"d":0.1,"e":-0.1,"f":94.5},
{"t":2016.75,"a":93,"b":0,"c":0,"d":0,"e":-0.3,"f":92.5},
{"t":2016.778,"a":90.5,"b":-0.1,"c":-0.2,"d":-0.4,"e":-1.2,"f":90.5},
{"t":2016.806,"a":88,"b":-0.2,"c":-0.3,"d":-0.6,"e":-1.5,"f":88},
{"t":2016.833,"a":85.5,"b":0.1,"c":0.2,"d":0.3,"e":-0.5,"f":86},
{"t":2016.861,"a":84,"b":-0.1,"c":-0.2,"d":-0.3,"e":-0.8,"f":84},
{"t":2016.889,"a":82,"b":0,"c":-0.1,"d":-0.2,"e":-0.7,"f":82},
{"t":2016.917,"a":80,"b":0,"c":0,"d":-0.1,"e":-0.6,"f":80},
{"t":2016.944,"a":78,"b":0,"c":0,"d":-0.1,"e":-0.5,"f":78},
{"t":2016.972,"a":76.5,"b":0,"c":0,"d":-0.1,"e":-0.5,"f":76.5},
{"t":2017,"a":76,"b":0,"c":0,"d":-0.1,"e":-0.5,"f":76},
{"t":2017.028,"a":74.5,"b":0,"c":0,"d":0,"e":-0.5,"f":74.5},
{"t":2017.056,"a":73,"b":0,"c":0,"d":-0.1,"e":-0.4,"f":73},
{"t":2017.083,"a":71.5,"b":0,"c":0,"d":0.1,"e":-0.5,"f":71.5},
{"t":2017.111,"a":70,"b":0,"c":0,"d":0,"e":-0.6,"f":70},
{"t":2017.139,"a":69,"b":0.1,"c":0.1,"d":0.2,"e":-0.4,"f":69},
{"t":2017.167,"a":68.5,"b":0,"c":0,"d":0,"e":-0.5,"f":68.5},
{"t":2017.194,"a":68,"b":0,"c":0.1,"d":0.1,"e":-0.3,"f":68.5},
{"t":2017.222,"a":68.5,"b":0.1,"c":0.2,"d":0.3,"e":-0.2,"f":68.5},
{"t":2017.25,"a":68,"b":0.2,"c":0.3,"d":0.5,"e":0,"f":68.5},
{"t":2017.278,"a":68.5,"b":0,"c":0.1,"d":0.1,"e":0.5,"f":68.5},
{"t":2017.306,"a":68.5,"b":0.2,"c":0.4,"d":0.6,"e":-0.3,"f":68.5},
{"t":2017.333,"a":69,"b":0.1,"c":0.1,"d":0.2,"e":0.3,"f":69},
{"t":2017.361,"a":69,"b":0.3,"c":0.5,"d":0.8,"e":1,"f":69},
{"t":2017.389,"a":69.5,"b":0.2,"c":0.3,"d":0.5,"e":-0.1,"f":70},
{"t":2017.417,"a":71.5,"b":0.1,"c":0.2,"d":0.3,"e":0.8,"f":71.5},
{"t":2017.444,"a":74,"b":0.3,"c":0.7,"d":1.2,"e":1.6,"f":74.5},
{"t":2017.472,"a":79,"b":0.2,"c":0.4,"d":0.6,"e":0.5,"f":80},
{"t":2017.5,"a":87,"b":0.8,"c":1.7,"d":3,"e":4.2,"f":87},
{"t":2017.528,"a":93,"b":0.5,"c":1,"d":1.6,"e":1.5,"f":92.5},
{"t":2017.556,"a":96,"b":0.1,"c":0.3,"d":0.4,"e":0.9,"f":95},
{"t":2017.583,"a":96,"b":-0.2,"c":-0.3,"d":-0.5,"e":-1,"f":96},
{"t":2017.611,"a":96,"b":0.2,"c":0.3,"d":0.5,"e":0.6,"f":96},
{"t":2017.639,"a":96.5,"b":0,"c":-0.1,"d":-0.2,"e":-0.3,"f":96},
{"t":2017.667,"a":96,"b":0.1,"c":0.2,"d":0.4,"e":0.4,"f":96},
{"t":2017.694,"a":95.5,"b":0,"c":0.1,"d":0.1,"e":-0.8,"f":95.5},
{"t":2017.722,"a":95,"b":-0.1,"c":-0.2,"d":-0.3,"e":-0.2,"f":95},
{"t":2017.75,"a":93.5,"b":0.1,"c":0.2,"d":0.3,"e":0,"f":93.5},
{"t":2017.778,"a":91,"b":0,"c":0,"d":-0.1,"e":-0.8,"f":91},
{"t":2017.806,"a":88.5,"b":-0.1,"c":-0.2,"d":-0.4,"e":-0.5,"f":88.5},
{"t":2017.833,"a":86,"b":0,"c":-0.1,"d":-0.2,"e":-0.6,"f":86.5},
{"t":2017.861,"a":84.5,"b":0,"c":-0.1,"d":-0.2,"e":-0.6,"f":84.5},
{"t":2017.889,"a":82.5,"b":0,"c":0,"d":0,"e":-0.8,"f":82.5},
{"t":2017.917,"a":80.5,"b":0,"c":0,"d":-0.1,"e":-0.7,"f":80.5},
{"t":2017.944,"a":79,"b":0,"c":0,"d":-0.1,"e":-0.6,"f":79},
{"t":2017.972,"a":78,"b":0.3,"c":0.4,"d":0.7,"e":0.1,"f":78},
{"t":2018,"a":77,"b":0,"c":0,"d":-0.1,"e":-0.5,"f":77},
{"t":2018.028,"a":75.5,"b":0,"c":0,"d":0,"e":-0.6,"f":75.5},
{"t":2018.056,"a":74,"b":0,"c":0,"d":-0.1,"e":-0.6,"f":74},
{"t":2018.083,"a":72.5,"b":0,"c":0,"d":0,"e":-0.6,"f":72.5},
{"t":2018.111,"a":71,"b":0,"c":0,"d":-0.1,"e":-0.6,"f":71},
{"t":2018.139,"a":69.5,"b":0,"c":0,"d":0,"e":-0.5,"f":69.5},
{"t":2018.167,"a":68,"b":0,"c":0,"d":0,"e":-0.5,"f":68},
{"t":2018.194,"a":67,"b":0,"c":0.1,"d":0.1,"e":-0.4,"f":67},
{"t":2018.222,"a":66.5,"b":0,"c":0,"d":0,"e":-0.3,"f":66.5},
{"t":2018.25,"a":66.5,"b":0,"c":0.1,"d":0.1,"e":-0.1,"f":66.5},
{"t":2018.278,"a":66.5,"b":0.1,"c":0.2,"d":0.3,"e":0.3,"f":66.5},
{"t":2018.306,"a":67,"b":0,"c":0.1,"d":0.1,"e":-0.2,"f":67},
{"t":2018.333,"a":68,"b":0.2,"c":0.3,"d":0.5,"e":0.9,"f":68},
{"t":2018.361,"a":69.5,"b":0.1,"c":0.2,"d":0.3,"e":0.2,"f":69.5},
{"t":2018.389,"a":71.5,"b":0.2,"c":0.4,"d":0.6,"e":0.5,"f":72},
{"t":2018.417,"a":76,"b":0.4,"c":0.7,"d":1.2,"e":2.3,"f":76},
{"t":2018.444,"a":82,"b":1.2,"c":1.9,"d":2.6,"e":-0.3,"f":81.5},
{"t":2018.472,"a":87,"b":-0.1,"c":-0.3,"d":-0.4,"e":0.8,"f":86.5},
{"t":2018.5,"a":91.5,"b":0.5,"c":1.2,"d":2,"e":2.8,"f":90.5},
{"t":2018.528,"a":93.5,"b":0.1,"c":0.2,"d":0.3,"e":1.5,"f":93},
{"t":2018.556,"a":94,"b":0.3,"c":0.6,"d":1,"e":1.2,"f":94},
{"t":2018.583,"a":94.5,"b":0.1,"c":0.2,"d":0.3,"e":0.5,"f":94.5},
{"t":2018.611,"a":95,"b":0.1,"c":0.3,"d":0.5,"e":0.6,"f":95},
{"t":2018.639,"a":95,"b":0,"c":0.1,"d":0.2,"e":0.2,"f":95},
{"t":2018.667,"a":95,"b":0,"c":0.1,"d":0.1,"e":0.4,"f":94.5},
{"t":2018.694,"a":94,"b":0.1,"c":0.2,"d":0.3,"e":-0.3,"f":94},
{"t":2018.722,"a":93,"b":-0.1,"c":-0.2,"d":-0.3,"e":0,"f":93},
{"t":2018.75,"a":92,"b":0.9,"c":0.5,"d":0.1,"e":-0.5,"f":92},
{"t":2018.778,"a":90.5,"b":0.1,"c":0.1,"d":0.2,"e":-0.3,"f":90.5},
{"t":2018.806,"a":89,"b":-0.2,"c":-0.4,"d":-0.6,"e":-1.2,"f":89},
{"t":2018.833,"a":87,"b":0,"c":-0.1,"d":-0.2,"e":-0.5,"f":87},
{"t":2018.861,"a":85,"b":0,"c":0,"d":-0.1,"e":-0.8,"f":85},
{"t":2018.889,"a":83,"b":0,"c":0,"d":0,"e":-0.6,"f":83},
{"t":2018.917,"a":81,"b":0,"c":0,"d":-0.1,"e":-0.2,"f":81},
{"t":2018.944,"a":79,"b":0.9,"c":0.6,"d":0.8,"e":-0.3,"f":79.5},
{"t":2018.972,"a":78,"b":0,"c":0,"d":0,"e":0.5,"f":78},
{"t":2019,"a":77.5,"b":0.7,"c":0.5,"d":0.8,"e":0,"f":77.5},
{"t":2019.028,"a":76,"b":0,"c":0,"d":-0.1,"e":-0.5,"f":76},
{"t":2019.056,"a":74.5,"b":0,"c":0,"d":0,"e":-0.3,"f":74.5},
{"t":2019.083,"a":73,"b":0,"c":0.1,"d":0.1,"e":-0.4,"f":73},
{"t":2019.111,"a":71.5,"b":0,"c":0,"d":-0.1,"e":0.1,"f":71.5},
{"t":2019.139,"a":70.5,"b":0,"c":0.1,"d":0.1,"e":-0.3,"f":70.5},
{"t":2019.167,"a":70,"b":0,"c":0.1,"d":0.2,"e":-0.2,"f":70},
{"t":2019.194,"a":69.5,"b":0,"c":0,"d":0,"e":-0.4,"f":69.5},
{"t":2019.222,"a":69,"b":0,"c":0.1,"d":0.1,"e":-0.1,"f":69},
{"t":2019.25,"a":69,"b":0.1,"c":0.1,"d":0.2,"e":-0.3,"f":69},
{"t":2019.278,"a":69,"b":0.1,"c":0.2,"d":0.3,"e":0.3,"f":69},
{"t":2019.306,"a":69.5,"b":0,"c":0,"d":0,"e":-0.2,"f":69.5},
{"t":2019.333,"a":69,"b":0.1,"c":0.1,"d":0.2,"e":0.5,"f":69},
{"t":2019.361,"a":69,"b":0.1,"c":0.3,"d":0.5,"e":-0.1,"f":69},
{"t":2019.389,"a":69.5,"b":0.1,"c":0.1,"d":0.2,"e":0.3,"f":69.5},
{"t":2019.417,"a":70,"b":0.2,"c":0.4,"d":0.6,"e":0,"f":70},
{"t":2019.444,"a":72,"b":0.1,"c":0.2,"d":0.4,"e":1.2,"f":72},
{"t":2019.472,"a":75,"b":0.3,"c":0.7,"d":1.2,"e":2,"f":76},
{"t":2019.5,"a":84,"b":0.7,"c":1.5,"d":2.6,"e":4.2,"f":83},
{"t":2019.528,"a":91,"b":-0.1,"c":-0.3,"d":-0.4,"e":0.2,"f":90},
{"t":2019.556,"a":95,"b":0.3,"c":0.7,"d":1.2,"e":-1.2,"f":94.5},
{"t":2019.583,"a":97.5,"b":0.1,"c":0.2,"d":0.3,"e":2.3,"f":97},
{"t":2019.611,"a":98.5,"b":0.2,"c":0.5,"d":0.8,"e":0.5,"f":98.5},
{"t":2019.639,"a":98.5,"b":0,"c":0,"d":0,"e":-0.2,"f":98.5},
{"t":2019.667,"a":99,"b":0.1,"c":0.2,"d":0.3,"e":-0.5,"f":99},
{"t":2019.694,"a":99.5,"b":0.1,"c":0.3,"d":0.5,"e":0,"f":99.5},
{"t":2019.722,"a":99.5,"b":-0.1,"c":-0.3,"d":-0.4,"e":-0.3,"f":98},
{"t":2019.75,"a":93,"b":-3,"c":-2.9,"d":-3,"e":-2.7,"f":95},
{"t":2019.778,"a":90.5,"b":0.1,"c":0.2,"d":0.3,"e":-0.5,"f":91.5},
{"t":2019.806,"a":88.5,"b":-0.1,"c":-0.3,"d":-0.4,"e":-1.3,"f":89},
{"t":2019.833,"a":86.5,"b":0,"c":0,"d":0,"e":-0.3,"f":87},
{"t":2019.861,"a":85,"b":0,"c":0.1,"d":0.2,"e":-0.7,"f":85},
{"t":2019.889,"a":83.5,"b":0,"c":-0.1,"d":-0.2,"e":-0.5,"f":83.5},
{"t":2019.917,"a":82,"b":-0.1,"c":-0.2,"d":-0.3,"e":-0.5,"f":82},
{"t":2019.944,"a":80.5,"b":0,"c":0,"d":-0.1,"e":-0.4,"f":80.5},
{"t":2019.972,"a":79.5,"b":0,"c":0,"d":-0.1,"e":-0.4,"f":79.5},
{"t":2020,"a":79,"b":0,"c":0,"d":-0.1,"e":-0.4,"f":79},
{"t":2020.028,"a":78,"b":0.3,"c":0.4,"d":0.8,"e":0.5,"f":78},
{"t":2020.056,"a":77,"b":0,"c":0,"d":0,"e":-0.3,"f":77},
{"t":2020.083,"a":76,"b":0,"c":0,"d":0.1,"e":-0.4,"f":76},
{"t":2020.111,"a":75,"b":0,"c":0,"d":0,"e":-0.3,"f":75},
{"t":2020.139,"a":74,"b":0,"c":0,"d":0.1,"e":-0.4,"f":74},
{"t":2020.167,"a":73,"b":0,"c":0,"d":0,"e":-0.3,"f":73},
{"t":2020.194,"a":72,"b":0,"c":0,"d":0.1,"e":-0.2,"f":72},
{"t":2020.222,"a":71,"b":0,"c":0,"d":0,"e":-0.3,"f":71},
{"t":2020.25,"a":70,"b":0,"c":0,"d":0.1,"e":-0.2,"f":70},
{"t":2020.278,"a":69,"b":0,"c":0.1,"d":0.2,"e":-0.1,"f":69.5},
{"t":2020.306,"a":70.5,"b":0.1,"c":0.2,"d":0.3,"e":1.6,"f":70.5},
{"t":2020.333,"a":73,"b":0.4,"c":0.8,"d":1.2,"e":-0.3,"f":72},
{"t":2020.361,"a":71.5,"b":0,"c":0,"d":0,"e":0,"f":73},
{"t":2020.389,"a":76,"b":0.1,"c":0.2,"d":0.3,"e":0.8,"f":76},
{"t":2020.417,"a":82,"b":0.2,"c":0.4,"d":0.6,"e":1.2,"f":81},
{"t":2020.444,"a":86.5,"b":0.3,"c":0.6,"d":1,"e":0.2,"f":85.5},
{"t":2020.472,"a":89,"b":0.5,"c":1.5,"d":2,"e":2.8,"f":88.5},
{"t":2020.5,"a":91.5,"b":0.4,"c":0.9,"d":1.5,"e":1.2,"f":91.5},
{"t":2020.528,"a":93.5,"b":0.1,"c":0.2,"d":0.4,"e":1.9,"f":93.5},
{"t":2020.556,"a":95,"b":0.3,"c":0.7,"d":1.2,"e":0.4,"f":95},
{"t":2020.583,"a":96.5,"b":0.2,"c":0.3,"d":0.5,"e":0.3,"f":96.5},
{"t":2020.611,"a":97.5,"b":0.2,"c":0.4,"d":0.6,"e":1.2,"f":97.5},
{"t":2020.639,"a":98,"b":0.3,"c":0.5,"d":0.8,"e":0,"f":97.5},
{"t":2020.667,"a":97.5,"b":0,"c":0.1,"d":0.2,"e":-0.3,"f":97.5},
{"t":2020.694,"a":96.5,"b":0.1,"c":0.2,"d":0.4,"e":0.2,"f":96.5},
{"t":2020.722,"a":96,"b":0,"c":0,"d":0.1,"e":-0.1,"f":95.5},
{"t":2020.75,"a":94,"b":-1.5,"c":-1.6,"d":-0.3,"e":-0.5,"f":94},
{"t":2020.778,"a":91.5,"b":-0.1,"c":-0.3,"d":-1.9,"e":-2.2,"f":92},
{"t":2020.806,"a":90,"b":0,"c":0,"d":0,"e":-0.4,"f":89.5},
{"t":2020.833,"a":87.5,"b":-0.1,"c":-0.3,"d":-0.6,"e":-0.8,"f":87.5},
{"t":2020.861,"a":85,"b":0,"c":-0.1,"d":-0.3,"e":-0.7,"f":85},
{"t":2020.889,"a":83,"b":0,"c":-0.1,"d":-0.2,"e":-0.6,"f":83},
{"t":2020.917,"a":81,"b":0,"c":-0.1,"d":-0.2,"e":-0.6,"f":81},
{"t":2020.944,"a":79,"b":0,"c":0,"d":-0.1,"e":-0.5,"f":79},
{"t":2020.972,"a":77.5,"b":0,"c":0,"d":-0.1,"e":-0.4,"f":77.5},
{"t":2021,"a":76.5,"b":0,"c":0,"d":-0.1,"e":-0.3,"f":76.5}
]},
"bounds":"flush",
"spacing":76,
"vconcat":[
{"title":"original time series of SM10-40","width":1467,"height":58,
 "layer":[
  {"mark":{"type":"line","color":"#FF0000","strokeWidth":1,"clip":true},
   "encoding":{
    "x":{"field":"t","type":"quantitative","scale":{"domain":[2005,2021],"nice":false,"zero":false},"axis":{"orient":"bottom","values":[2006,2007,2008,2009,2010,2011,2012,2013,2014,2015,2016,2017,2018,2019,2020],"title":null,"tickSize":-20,"labelPadding":29}},
    "y":{"field":"a","type":"quantitative","scale":{"domain":[64.5,99.8],"nice":false,"zero":false},"axis":{"orient":"left","values":[70,80,90],"title":null,"tickSize":-15,"labelPadding":19}}}},
  {"mark":{"type":"line","opacity":0},
   "encoding":{
    "x":{"field":"t","type":"quantitative","axis":{"orient":"top","values":[2006,2007,2008,2009,2010,2011,2012,2013,2014,2015,2016,2017,2018,2019,2020],"labels":false,"title":null,"tickSize":-20}},
    "y":{"field":"a","type":"quantitative","axis":{"orient":"right","values":[70,80,90],"labels":false,"title":null,"tickSize":-15}}}}
 ],
 "resolve":{"axis":{"x":"independent","y":"independent"}}},
{"title":"wavelet coefficient (W1)","width":1467,"height":58,
 "layer":[
  {"mark":{"type":"line","color":"#0072BD","strokeWidth":1,"clip":true},
   "encoding":{
    "x":{"field":"t","type":"quantitative","scale":{"domain":[2005,2021],"nice":false,"zero":false},"axis":{"orient":"bottom","values":[2006,2007,2008,2009,2010,2011,2012,2013,2014,2015,2016,2017,2018,2019,2020],"title":null,"tickSize":-20,"labelPadding":29}},
    "y":{"field":"b","type":"quantitative","scale":{"domain":[-3,3],"nice":false,"zero":false},"axis":{"orient":"left","values":[-2,0,2],"title":null,"tickSize":-15,"labelPadding":19}}}},
  {"mark":{"type":"line","opacity":0},
   "encoding":{
    "x":{"field":"t","type":"quantitative","axis":{"orient":"top","values":[2006,2007,2008,2009,2010,2011,2012,2013,2014,2015,2016,2017,2018,2019,2020],"labels":false,"title":null,"tickSize":-20}},
    "y":{"field":"b","type":"quantitative","axis":{"orient":"right","values":[-2,0,2],"labels":false,"title":null,"tickSize":-15}}}}
 ],
 "resolve":{"axis":{"x":"independent","y":"independent"}}},
{"title":"wavelet coefficient (W2)","width":1467,"height":58,
 "layer":[
  {"mark":{"type":"line","color":"#0072BD","strokeWidth":1,"clip":true},
   "encoding":{
    "x":{"field":"t","type":"quantitative","scale":{"domain":[2005,2021],"nice":false,"zero":false},"axis":{"orient":"bottom","values":[2006,2007,2008,2009,2010,2011,2012,2013,2014,2015,2016,2017,2018,2019,2020],"title":null,"tickSize":-20,"labelPadding":29}},
    "y":{"field":"c","type":"quantitative","scale":{"domain":[-2.9,2.9],"nice":false,"zero":false},"axis":{"orient":"left","values":[-2,0,2],"title":null,"tickSize":-15,"labelPadding":19}}}},
  {"mark":{"type":"line","opacity":0},
   "encoding":{
    "x":{"field":"t","type":"quantitative","axis":{"orient":"top","values":[2006,2007,2008,2009,2010,2011,2012,2013,2014,2015,2016,2017,2018,2019,2020],"labels":false,"title":null,"tickSize":-20}},
    "y":{"field":"c","type":"quantitative","axis":{"orient":"right","values":[-2,0,2],"labels":false,"title":null,"tickSize":-15}}}}
 ],
 "resolve":{"axis":{"x":"independent","y":"independent"}}},
{"title":"wavelet coefficient (W3)","width":1467,"height":58,
 "layer":[
  {"mark":{"type":"line","color":"#0072BD","strokeWidth":1,"clip":true},
   "encoding":{
    "x":{"field":"t","type":"quantitative","scale":{"domain":[2005,2021],"nice":false,"zero":false},"axis":{"orient":"bottom","values":[2006,2007,2008,2009,2010,2011,2012,2013,2014,2015,2016,2017,2018,2019,2020],"title":null,"tickSize":-20,"labelPadding":29}},
    "y":{"field":"d","type":"quantitative","scale":{"domain":[-3.05,3.7],"nice":false,"zero":false},"axis":{"orient":"left","values":[-2,0,2],"title":null,"tickSize":-15,"labelPadding":19}}}},
  {"mark":{"type":"line","opacity":0},
   "encoding":{
    "x":{"field":"t","type":"quantitative","axis":{"orient":"top","values":[2006,2007,2008,2009,2010,2011,2012,2013,2014,2015,2016,2017,2018,2019,2020],"labels":false,"title":null,"tickSize":-20}},
    "y":{"field":"d","type":"quantitative","axis":{"orient":"right","values":[-2,0,2],"labels":false,"title":null,"tickSize":-15}}}}
 ],
 "resolve":{"axis":{"x":"independent","y":"independent"}}},
{"title":"wavelet coefficient (W4)","width":1467,"height":58,
 "layer":[
  {"mark":{"type":"line","color":"#0072BD","strokeWidth":1,"clip":true},
   "encoding":{
    "x":{"field":"t","type":"quantitative","scale":{"domain":[2005,2021],"nice":false,"zero":false},"axis":{"orient":"bottom","values":[2006,2007,2008,2009,2010,2011,2012,2013,2014,2015,2016,2017,2018,2019,2020],"title":null,"tickSize":-20,"labelPadding":29}},
    "y":{"field":"e","type":"quantitative","scale":{"domain":[-2.8,5.8],"nice":false,"zero":false},"axis":{"orient":"left","values":[-2,0,2,4],"title":null,"tickSize":-15,"labelPadding":19,"labelFontSize":13}}}},
  {"mark":{"type":"line","opacity":0},
   "encoding":{
    "x":{"field":"t","type":"quantitative","axis":{"orient":"top","values":[2006,2007,2008,2009,2010,2011,2012,2013,2014,2015,2016,2017,2018,2019,2020],"labels":false,"title":null,"tickSize":-20}},
    "y":{"field":"e","type":"quantitative","axis":{"orient":"right","values":[-2,0,2,4],"labels":false,"title":null,"tickSize":-15}}}}
 ],
 "resolve":{"axis":{"x":"independent","y":"independent"}}},
{"title":"scaling coefficient (V)","width":1467,"height":58,
 "layer":[
  {"mark":{"type":"line","color":"#FF00FF","strokeWidth":1,"clip":true},
   "encoding":{
    "x":{"field":"t","type":"quantitative","scale":{"domain":[2005,2021],"nice":false,"zero":false},"axis":{"orient":"bottom","values":[2006,2007,2008,2009,2010,2011,2012,2013,2014,2015,2016,2017,2018,2019,2020],"title":"Year","titleFontSize":27,"titleFontWeight":"bold","titlePadding":12,"tickSize":-20,"labelPadding":29}},
    "y":{"field":"f","type":"quantitative","scale":{"domain":[64.5,99.8],"nice":false,"zero":false},"axis":{"orient":"left","values":[70,80,90],"title":null,"tickSize":-15,"labelPadding":19}}}},
  {"mark":{"type":"line","opacity":0},
   "encoding":{
    "x":{"field":"t","type":"quantitative","axis":{"orient":"top","values":[2006,2007,2008,2009,2010,2011,2012,2013,2014,2015,2016,2017,2018,2019,2020],"labels":false,"title":null,"tickSize":-20}},
    "y":{"field":"f","type":"quantitative","axis":{"orient":"right","values":[70,80,90],"labels":false,"title":null,"tickSize":-15}}}}
 ],
 "resolve":{"axis":{"x":"independent","y":"independent"}}}
]
}
